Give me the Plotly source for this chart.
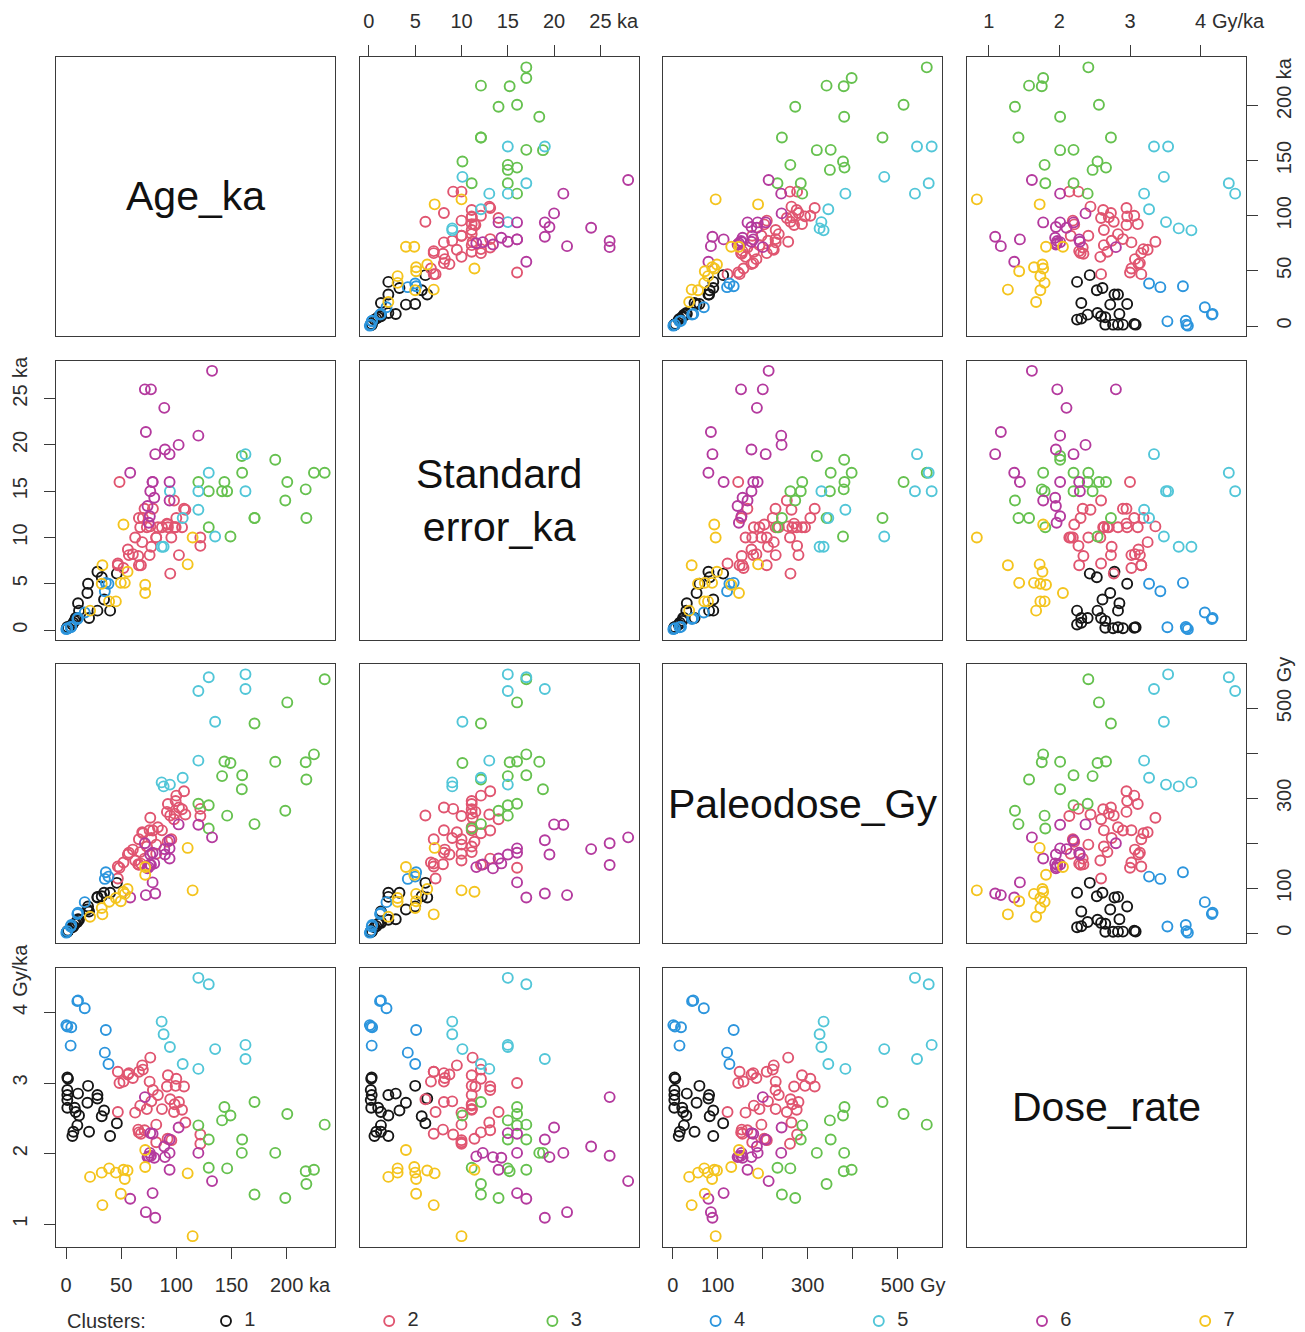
import plotly.graph_objects as go

# ------------------------------------------------------------------
# Data (one list per cluster)
# ------------------------------------------------------------------
clusters = ["1", "2", "3", "4", "5", "6", "7"]
colors = ["#161616", "#E05570", "#66C14F", "#2C95DD", "#52C6D8", "#B43A9E", "#F4C41E"]

# cluster 1 (black)
age_1 = [46.1, 40.0, 32.4, 34.5, 28.5, 28.5, 20.9, 19.4, 20.0, 10.3, 11.8, 8.8, 7.9, 10.9, 5.8, 6.7, 1.2, 1.2, 1.2, 1.2, 1.8, 1.2]
se_1 = [6.1, 2.1, 5.7, 3.3, 6.3, 2.1, 1.3, 4.0, 5.0, 1.3, 2.1, 1.3, 1.0, 2.9, 0.6, 0.8, 0.25, 0.2, 0.3, 0.2, 0.25, 0.3]
pd_1 = [112.0, 90.0, 82.0, 90.0, 79.2, 80.7, 48.3, 52.8, 59.2, 24.7, 30.0, 22.8, 20.9, 31.1, 13.1, 15.5, 3.2, 3.3, 3.4, 3.5, 5.5, 3.7]
dr_1 = [2.43, 2.25, 2.53, 2.61, 2.78, 2.83, 2.31, 2.72, 2.96, 2.40, 2.54, 2.59, 2.65, 2.85, 2.25, 2.31, 2.65, 2.76, 2.83, 2.90, 3.06, 3.08]

# cluster 2 (red / pink)
age_2 = [121.8, 121.8, 108.2, 105.2, 102.4, 97.9, 98.5, 94.5, 87.0, 107.0, 100.0, 99.4, 92.4, 91.5, 95.5, 92.1, 81.8, 81.8, 83.3, 78.8,
         75.8, 76.4, 73.3, 77.3, 71.2, 66.1, 67.9, 65.5, 62.7, 67.3, 69.7, 69.1, 66.1, 60.6, 56.1, 57.0, 47.0, 48.5, 52.1, 47.0]
se_2 = [10.0, 9.1, 13.0, 11.1, 8.1, 14.0, 11.1, 6.1, 11.1, 13.1, 12.1, 11.1, 11.1, 11.5, 10.0, 11.4, 10.0, 10.0, 11.1, 13.1,
        8.1, 11.2, 11.1, 9.0, 13.1, 12.1, 7.0, 8.0, 10.0, 11.1, 12.1, 9.5, 7.0, 8.2, 8.7, 8.1, 7.0, 16.0, 6.7, 7.2]
pd_2 = [260.7, 276.5, 264.0, 275.6, 279.6, 253.6, 266.0, 261.8, 228.8, 315.7, 306.0, 294.2, 287.4, 269.9, 209.1, 203.5, 176.7, 197.1, 235.7, 228.5,
        228.9, 256.7, 192.8, 211.8, 165.9, 152.0, 154.8, 153.3, 161.8, 180.4, 222.3, 224.6, 208.9, 186.0, 175.0, 179.0, 148.5, 145.5, 157.3, 121.7]
dr_2 = [2.14, 2.27, 2.44, 2.62, 2.73, 2.59, 2.70, 2.77, 2.63, 2.95, 3.06, 2.96, 3.11, 2.95, 2.19, 2.21, 2.16, 2.41, 2.83, 2.90,
        3.02, 3.36, 2.63, 2.74, 2.33, 2.30, 2.28, 2.34, 2.58, 2.68, 3.19, 3.25, 3.16, 3.07, 3.12, 3.14, 3.16, 3.00, 3.02, 2.59]

# cluster 3 (green)
age_3 = [198.8, 170.9, 217.9, 217.3, 224.8, 146.1, 129.4, 159.4, 189.7, 159.7, 129.4, 120.0, 234.5, 141.5, 149.1, 200.6, 143.6, 170.9]
se_3 = [14.0, 12.1, 12.1, 15.2, 17.0, 15.0, 11.1, 18.8, 18.4, 17.0, 15.0, 16.0, 17.0, 15.0, 10.1, 16.0, 16.0, 12.1]
pd_3 = [272.4, 242.7, 342.1, 380.3, 397.9, 261.5, 232.9, 320.4, 381.3, 351.3, 284.7, 288.0, 565.1, 349.5, 378.7, 513.5, 382.0, 466.6]
dr_3 = [1.37, 1.42, 1.57, 1.75, 1.77, 1.79, 1.80, 2.01, 2.01, 2.20, 2.20, 2.40, 2.41, 2.47, 2.54, 2.56, 2.66, 2.73]

# cluster 4 (blue)
age_4 = [38.5, 35.2, 36.1, 17.0, 10.9, 10.3, 4.2, 4.8, 1.2, 0.3]
se_4 = [5.0, 4.2, 5.1, 1.9, 1.3, 1.2, 0.3, 0.35, 0.2, 0.1]
pd_4 = [125.9, 120.7, 135.4, 69.0, 45.5, 42.8, 14.8, 18.2, 4.6, 1.1]
dr_4 = [3.27, 3.43, 3.75, 4.06, 4.17, 4.16, 3.53, 3.79, 3.80, 3.82]

# cluster 5 (cyan)
age_5 = [120.0, 105.8, 162.7, 135.2, 94.2, 162.7, 88.5, 86.7, 129.4, 120.0]
se_5 = [13.0, 12.1, 19.0, 10.1, 15.0, 15.0, 9.0, 9.0, 17.0, 15.0]
pd_5 = [384.0, 346.0, 543.4, 470.5, 330.6, 576.0, 326.6, 335.5, 569.4, 538.8]
dr_5 = [3.20, 3.27, 3.34, 3.48, 3.51, 3.54, 3.69, 3.87, 4.40, 4.49]

# cluster 6 (magenta)
age_6 = [132.4, 120.0, 102.1, 93.9, 93.9, 89.7, 89.1, 93.9, 80.9, 72.4, 78.5, 80.0, 77.0, 73.9, 78.5, 76.4, 71.5, 58.2, 75.0, 76.0]
se_6 = [28.0, 21.0, 20.0, 14.0, 16.0, 19.5, 24.0, 19.0, 19.0, 21.4, 16.0, 14.3, 26.0, 13.4, 16.0, 15.0, 26.0, 17.0, 11.6, 12.3]
pd_6 = [213.2, 241.2, 242.0, 166.2, 188.7, 174.9, 187.1, 206.6, 88.2, 84.7, 113.0, 155.2, 151.7, 144.1, 179.0, 175.0, 200.2, 79.2, 147.0, 152.8]
dr_6 = [1.61, 2.01, 2.37, 1.77, 2.01, 1.95, 2.10, 2.20, 1.09, 1.17, 1.44, 1.94, 1.97, 1.95, 2.28, 2.29, 2.80, 1.36, 1.96, 2.01]

# cluster 7 (yellow)
age_7 = [114.8, 110.3, 71.8, 71.8, 49.7, 53.3, 55.8, 52.1, 45.2, 39.1, 33.0, 32.4, 21.8]
se_7 = [10.0, 7.1, 4.9, 4.0, 5.1, 5.1, 6.3, 11.4, 3.1, 3.1, 7.0, 5.0, 2.1]
pd_7 = [95.3, 189.7, 130.0, 147.2, 71.1, 87.4, 98.2, 92.2, 78.2, 70.0, 41.9, 56.1, 36.4]
dr_7 = [0.83, 1.72, 1.81, 2.05, 1.43, 1.64, 1.76, 1.77, 1.73, 1.79, 1.27, 1.73, 1.67]

var_titles = ["Age_ka", "Standard<br>error_ka", "Paleodose_Gy", "Dose_rate"]

age_ticks = [0, 50, 100, 150, 200]
age_tick_labels = ["0", "50", "100", "150", "200"]
se_ticks = [0, 5, 10, 15, 20, 25]
se_tick_labels = ["0", "5", "10", "15", "20", "25"]
pd_ticks = [0, 100, 200, 300, 400, 500]
pd_tick_labels = ["0", "100", "", "300", "", "500"]
dr_ticks = [1, 2, 3, 4]
dr_tick_labels = ["1", "2", "3", "4"]
units = ["ka", "ka", "Gy", "Gy/ka"]

# ------------------------------------------------------------------
series = [
    [age_1, age_2, age_3, age_4, age_5, age_6, age_7],
    [se_1, se_2, se_3, se_4, se_5, se_6, se_7],
    [pd_1, pd_2, pd_3, pd_4, pd_5, pd_6, pd_7],
    [dr_1, dr_2, dr_3, dr_4, dr_5, dr_6, dr_7],
]
tick_vals = [age_ticks, se_ticks, pd_ticks, dr_ticks]
tick_texts = [age_tick_labels, se_tick_labels, pd_tick_labels, dr_tick_labels]

# the page puts an 8px body margin around the figure: lay out in page pixels minus that
OFF = 8
W, H = 1305 - OFF, 1332 - OFF
PX = [56 - OFF, 359.5 - OFF, 663 - OFF, 966.5 - OFF]
PY = [57 - OFF, 360.5 - OFF, 664 - OFF, 967.5 - OFF]
S = 279
FONT = "Liberation Sans, Arial, Helvetica, sans-serif"
LINE = "#3a3a3a"
TXT = "#2e2e2e"
TICKSIZE = 20
TICKFONT = dict(family=FONT, size=TICKSIZE, color=TXT)


def xdom(c):
    return [PX[c] / W, (PX[c] + S) / W]


def ydom(r):
    return [1 - (PY[r] + S) / H, 1 - PY[r] / H]


ranges = []
for v in range(4):
    allv = [val for lst in series[v] for val in lst]
    lo, hi = min(allv), max(allv)
    pad = 0.04 * (hi - lo)
    ranges.append([lo - pad, hi + pad])


def unit_note(v, k, side):
    """Unit text written just after the last tick label of an axis."""
    num = tick_texts[v][-1]
    val = tick_vals[v][-1]
    shift = 0.556 * TICKSIZE * len(num) / 2 + 0.278 * TICKSIZE - 1
    xa, ya = "x%d" % k, "y%d" % k
    base = dict(text=units[v], showarrow=False, font=TICKFONT, borderpad=0)
    if side in ("bottom", "top"):
        base.update(xref=xa, x=val, yref=ya + " domain", y=0 if side == "bottom" else 1,
                    xanchor="left", yanchor="middle", xshift=shift,
                    yshift=-38.5 if side == "bottom" else 36)
    else:
        base.update(yref=ya, y=val, xref=xa + " domain", x=0 if side == "left" else 1,
                    xanchor="center", yanchor="bottom", yshift=shift + 4, textangle=-90,
                    xshift=-36 if side == "left" else 38.5)
    return base


fig = go.Figure()
layout = {}
annotations = []

for r in range(4):
    for c in range(4):
        k = r * 4 + c + 1
        xname = "x" if k == 1 else "x%d" % k
        yname = "y" if k == 1 else "y%d" % k
        xkey = "xaxis" if k == 1 else "xaxis%d" % k
        ykey = "yaxis" if k == 1 else "yaxis%d" % k

        if r != c:
            for ci in range(7):
                fig.add_trace(go.Scatter(
                    x=series[c][ci], y=series[r][ci], mode="markers",
                    marker=dict(symbol="circle-open", size=10, color=colors[ci],
                                line=dict(width=1.9, color=colors[ci])),
                    xaxis=xname, yaxis=yname, showlegend=False, hoverinfo="skip"))
        else:
            fig.add_trace(go.Scatter(x=[None], y=[None], mode="markers",
                                     xaxis=xname, yaxis=yname, showlegend=False,
                                     hoverinfo="skip"))
            annotations.append(dict(
                text=var_titles[r], xref="%s domain" % xname, yref="%s domain" % yname,
                x=0.5, y=0.5, showarrow=False, xanchor="center", yanchor="middle",
                font=dict(family=FONT, size=41, color="#111111")))

        xa = dict(domain=xdom(c), anchor=yname, range=ranges[c], showgrid=False,
                  zeroline=False, showline=True, linecolor=LINE, linewidth=1.4,
                  mirror=True, ticks="", showticklabels=False, fixedrange=True,
                  automargin=False)
        ya = dict(domain=ydom(r), anchor=xname, range=ranges[r], showgrid=False,
                  zeroline=False, showline=True, linecolor=LINE, linewidth=1.4,
                  mirror=True, ticks="", showticklabels=False, fixedrange=True,
                  automargin=False)

        tickstyle = dict(ticks="outside", ticklen=11, tickwidth=1.3, tickcolor=LINE,
                         showticklabels=True, ticklabelstandoff=9, tickfont=TICKFONT)
        if (r == 3 and c in (0, 2)) or (r == 0 and c in (1, 3)):
            side = "bottom" if r == 3 else "top"
            xa.update(tickstyle)
            xa.update(tickmode="array", tickvals=tick_vals[c], ticktext=tick_texts[c],
                      side=side, tickangle=0)
            annotations.append(unit_note(c, k, side))
        if (c == 0 and r in (1, 3)) or (c == 3 and r in (0, 2)):
            side = "left" if c == 0 else "right"
            ya.update(tickstyle)
            ya.update(tickmode="array", tickvals=tick_vals[r], ticktext=tick_texts[r],
                      side=side, tickangle=-90)
            annotations.append(unit_note(r, k, side))
        layout[xkey] = xa
        layout[ykey] = ya

# ---- legend row (drawn on its own small axis, one point per cluster) ----
fig.add_trace(go.Scatter(
    x=[int(cn) for cn in clusters], y=[0.5] * len(clusters), mode="markers+text",
    text=["  " + cn for cn in clusters], textposition="middle right",
    textfont=dict(family=FONT, size=20, color=TXT),
    marker=dict(symbol="circle-open", size=10, color=colors, line=dict(width=1.9, color=colors)),
    xaxis="x17", yaxis="y17", showlegend=False, hoverinfo="skip", cliponaxis=False))
step = 163.2
r0 = 1 - (226 - OFF) / step
layout["xaxis17"] = dict(domain=[0, 1], range=[r0, r0 + W / step], visible=False,
                         anchor="y17", fixedrange=True, automargin=False)
layout["yaxis17"] = dict(domain=[0, 1 - (1310 - OFF) / H], range=[0, 1], visible=False,
                         anchor="x17", fixedrange=True, automargin=False)
annotations.append(dict(text="Clusters:", xref="paper", yref="paper", x=(65 - OFF) / W,
                        y=1 - (1321 - OFF) / H, xanchor="left", yanchor="middle", showarrow=False,
                        font=dict(family=FONT, size=20, color=TXT)))

fig.update_layout(
    width=W, height=H, margin=dict(l=0, r=0, t=0, b=0, autoexpand=False),
    paper_bgcolor="white", plot_bgcolor="white", showlegend=False,
    annotations=annotations, **layout)

fig.write_html("out.html")
